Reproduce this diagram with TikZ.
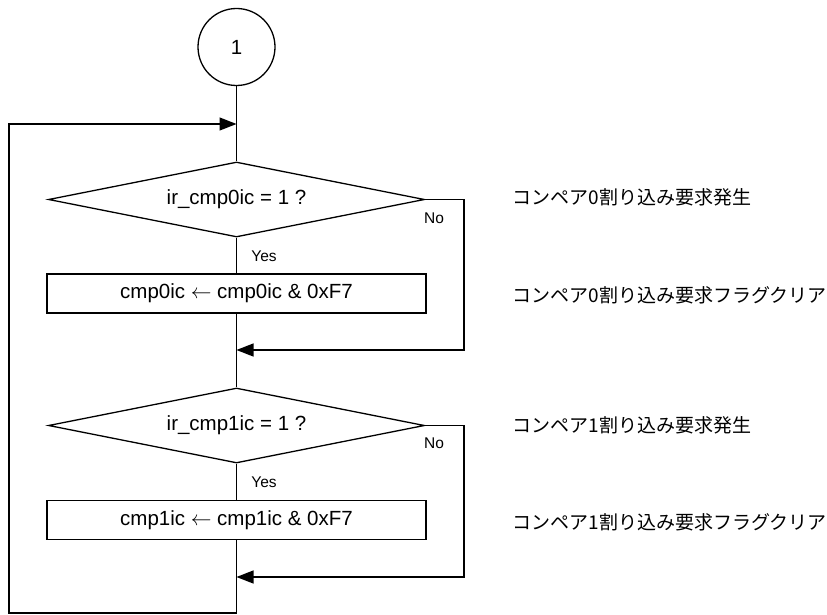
\documentclass[tikz,border=0pt]{standalone}
\usepackage{fontspec}
\setmainfont{Liberation Sans}
\newfontfamily\jp{Noto Sans CJK JP}
\usetikzlibrary{shapes.geometric,arrows.meta}
\begin{document}
\begin{tikzpicture}[x=1pt,y=-1pt,
  line width=1.3pt,
  every node/.style={font=\fontsize{20.5pt}{24pt}\selectfont},
  termcircle/.style={draw,circle,minimum size=77pt,inner sep=0pt},
  decision/.style={draw,diamond,aspect=5,minimum width=376pt,minimum height=75pt,inner sep=0pt},
  process/.style={draw,rectangle,minimum width=379pt,minimum height=39pt,inner sep=0pt},
  small/.style={font=\fontsize{15.5pt}{18pt}\selectfont,inner sep=0pt},
  note/.style={anchor=west,inner sep=0pt,font=\jp\fontsize{19pt}{22pt}\selectfont},
  arr/.style={-{Triangle[length=17pt,width=13pt]}}
]
\useasboundingbox (0,0) rectangle (827,615);

\node[termcircle] (c1) at (236.5,47) {1};
\coordinate (m0) at (236.5,124);
\node[decision] (d1) at (236.5,199.5) {ir\_cmp0ic = 1 ?};
\node[process] (r1) at (236.5,293.5) {cmp0ic $\leftarrow$ cmp0ic \& 0xF7};
\coordinate (m1) at (236.5,350);
\node[decision] (d2) at (236.5,425.5) {ir\_cmp1ic = 1 ?};
\node[process] (r2) at (236.5,520) {cmp1ic $\leftarrow$ cmp1ic \& 0xF7};
\coordinate (m2) at (236.5,577);
\coordinate (bot) at (236.5,613);
\coordinate (bl) at (9,613);
\coordinate (tl) at (9,124);
\coordinate (rt1) at (464,199.5);
\coordinate (rt2) at (464,425.5);

\node[small] (no1) at (434,218) {No};
\node[small] (yes1) at (264,256) {Yes};
\node[small] (no2) at (434,443) {No};
\node[small] (yes2) at (264,482) {Yes};

\node[note] (t1) at (512,197) {コンペア0割り込み要求発生};
\node[note] (t2) at (512,295) {コンペア0割り込み要求フラグクリア};
\node[note] (t3) at (512,425) {コンペア1割り込み要求発生};
\node[note] (t4) at (512,522) {コンペア1割り込み要求フラグクリア};

\draw (c1) -- (d1);
\draw (d1) -- (r1);
\draw (r1) -- (d2);
\draw (d2) -- (r2);
\draw (r2) -- (bot);
\draw[arr] (d1.east) -- (rt1) |- (m1);
\draw[arr] (d2.east) -- (rt2) |- (m2);
\draw[arr] (bot) -- (bl) -- (tl) -- (m0);
\end{tikzpicture}
\end{document}
